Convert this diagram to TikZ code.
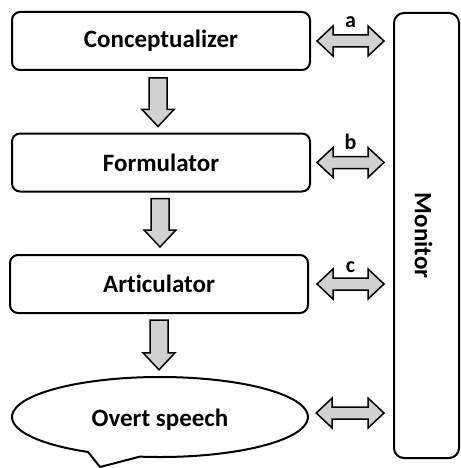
\documentclass[tikz,border=0pt]{standalone}
\usepackage{fontspec}
\setmainfont{Carlito}[Ligatures=NoCommon]
\usetikzlibrary{calc,shapes.geometric}
\tikzset{
  stagebox/.style={draw=black, line width=2pt, rounded corners=8pt, fill=white,
    minimum width=298pt, minimum height=58pt, inner sep=0pt,
    font=\fontsize{25}{30}\selectfont\bfseries},
  monbox/.style={draw=black, line width=2pt, rounded corners=10pt, fill=white,
    minimum width=65pt, minimum height=445pt, inner sep=0pt},
  bubble/.style={draw=black, line width=2pt, fill=white, line join=round},
  bubbleshape/.style={ellipse, minimum width=296pt, minimum height=80pt, inner sep=0pt},
  bigtext/.style={font=\fontsize{25}{30}\selectfont\bfseries},
  montext/.style={rotate=-90, font=\fontsize{25}{30}\selectfont\bfseries},
  blockarrow/.style={draw=black, line width=1.5pt, fill=black!18, line join=miter},
  lbl/.style={font=\fontsize{22}{26}\selectfont\bfseries, inner sep=0pt, anchor=base}
}
\newcommand{\blockdown}[2]{%
  \draw[blockarrow] let \p1=(#1), \p2=(#2) in
    (\x1-9pt,\y1) -- (\x1+9pt,\y1) -- (\x1+9pt,\y2+17pt) -- (\x1+16pt,\y2+17pt)
    -- (\x1,\y2) -- (\x1-16pt,\y2+17pt) -- (\x1-9pt,\y2+17pt) -- cycle;}
\newcommand{\blockboth}[2]{%
  \draw[blockarrow] let \p1=(#1), \p2=(#2) in
    (\x1,\y1) -- (\x1+16pt,\y1+15pt) -- (\x1+16pt,\y1+6pt) -- (\x2-16pt,\y1+6pt)
    -- (\x2-16pt,\y1+15pt) -- (\x2,\y1) -- (\x2-16pt,\y1-15pt) -- (\x2-16pt,\y1-6pt)
    -- (\x1+16pt,\y1-6pt) -- (\x1+16pt,\y1-15pt) -- cycle;}
\begin{document}
\begin{tikzpicture}[x=1pt, y=-1pt]
\useasboundingbox[fill=white] (0,0) rectangle (460,468);

\node[stagebox] (c1) at (161,41) {Conceptualizer};
\node[stagebox] (c2) at (161,162.5) {Formulator};
\node[stagebox] (c3) at (159,284) {Articulator};

\coordinate (spc) at (160,417);
\draw[bubble] ($(spc)+(119.1:148 and 40)$) coordinate (tl) -- (100,467) coordinate (tip)
  -- ($(spc)+(97.8:148 and 40)$) coordinate (tr)
  arc[start angle=97.8, end angle=-240.9, x radius=148, y radius=40] -- cycle;
\node[bubbleshape] (sp) at (spc) {};
\node[bigtext] (sptext) at ($(sp.center)+(0,3)$) {Overt speech};

\node[monbox] (mon) at (426.5,235.5) {};
\node[montext] (montxt) at ($(mon.center)+(-3,0)$) {Monitor};

\blockdown{$(c1.south)+(-3,7)$}{$(c2.north)+(-3,-6)$}
\blockdown{$(c2.south)+(-1,6)$}{$(c3.north)+(1,-7)$}
\blockdown{$(c3.south)+(0,6)$}{$(sp.north)+(0,-7)$}

\blockboth{$(c1.east)+(6,0)$}{$(c1.east -| mon.west)+(-9,0)$}
\blockboth{$(c2.east)+(6,0)$}{$(c2.east -| mon.west)+(-9,0)$}
\blockboth{$(c3.east)+(8,0)$}{$(c3.east -| mon.west)+(-9,0)$}
\blockboth{$(sp.east)+(8,-4)$}{$(sp.east -| mon.west)+(-9,-4)$}

\path ($(c1.east)+(6,0)$) -- ($(c1.east -| mon.west)+(-9,0)$)
  node[lbl, midway, yshift=13pt] (la) {a};
\path ($(c2.east)+(6,0)$) -- ($(c2.east -| mon.west)+(-9,0)$)
  node[lbl, midway, yshift=13pt] (lb) {b};
\path ($(c3.east)+(8,0)$) -- ($(c3.east -| mon.west)+(-9,0)$)
  node[lbl, midway, yshift=12pt] (lc) {c};
\end{tikzpicture}
\end{document}
